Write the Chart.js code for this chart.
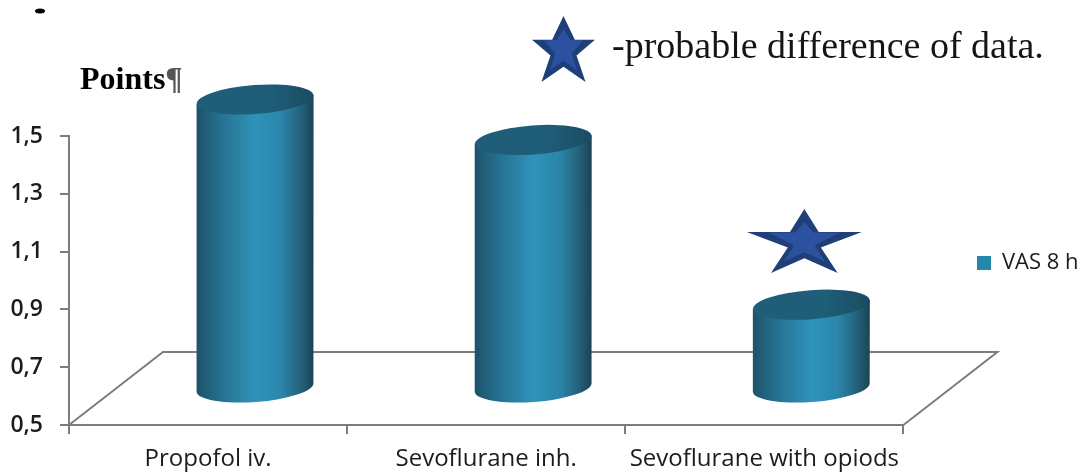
<!DOCTYPE html>
<html>
<head>
<meta charset="utf-8">
<title>VAS 8 h</title>
<style>
  html, body { margin: 0; padding: 0; background: #fff; }
  canvas { display: block; }
</style>
<script src="https://cdn.jsdelivr.net/npm/chart.js@4/dist/chart.umd.js"></script>
</head>
<body>
<canvas id="vas-chart" width="1085" height="473"></canvas>
<script>
const categories = ["Propofol iv.", "Sevoflurane inh.", "Sevoflurane with opiods"];
const vasValues = [1.5, 1.36, 0.79];
const tickLabels = ["0,5", "0,7", "0,9", "1,1", "1,3", "1,5"];
const seriesName = "VAS 8 h";
const axisTitle = "Points";
const starNote = "-probable difference of data.";

const GREY = "#7d7d7d";
const DEPTH_X = 94;
const DEPTH_Y = 73;

function starPath(ctx, cx, top, halfW, shoulderY, footX, footY, innerX, innerY) {
    // outer points and the notches between them, clockwise from the top
    ctx.beginPath();
    ctx.moveTo(cx, top);
    ctx.lineTo(cx + innerX, shoulderY);
    ctx.lineTo(cx + halfW, shoulderY);
    ctx.lineTo(cx + innerX * 1.15, innerY);
    ctx.lineTo(cx + footX, footY);
    ctx.lineTo(cx, innerY + (footY - innerY) * 0.42);
    ctx.lineTo(cx - footX, footY);
    ctx.lineTo(cx - innerX * 1.15, innerY);
    ctx.lineTo(cx - halfW, shoulderY);
    ctx.lineTo(cx - innerX, shoulderY);
    ctx.closePath();
}

function drawStar(ctx, cx, top, width, height, footRatio, notchRatio) {
    const h = width / 2;
    ctx.fillStyle = "#1f3f78";
    starPath(ctx, cx, top, h, top + height * 0.36, h * footRatio, top + height, h * notchRatio, top + height * 0.6);
    ctx.fill();
    // lighter face inside the outline
    const t = top + height * 0.2;
    const ih = height * 0.62;
    ctx.fillStyle = "#2c519f";
    starPath(ctx, cx, t, h * 0.62, t + ih * 0.27, h * footRatio * 0.62, t + ih, h * notchRatio * 0.62, t + ih * 0.6);
    ctx.fill();
}

function drawCylinder(ctx, bar) {
    const rx = bar.width / 2;
    const ry = 14.5;
    const tilt = -0.075;
    const left = bar.x - rx;
    const right = bar.x + rx;

    const side = ctx.createLinearGradient(left, 0, right, 0);
    side.addColorStop(0, "#1d5269");
    side.addColorStop(0.2, "#26708f");
    side.addColorStop(0.5, "#2e93ba");
    side.addColorStop(0.72, "#2b86aa");
    side.addColorStop(0.9, "#235f78");
    side.addColorStop(1, "#1b4354");

    const dy = rx * Math.sin(tilt);
    ctx.beginPath();
    ctx.moveTo(left, bar.y - dy);
    ctx.lineTo(left, bar.base - dy);
    ctx.ellipse(bar.x, bar.base, rx, ry, tilt, Math.PI, 0, true);
    ctx.lineTo(right, bar.y + dy);
    ctx.closePath();
    ctx.fillStyle = side;
    ctx.fill();

    const lid = ctx.createLinearGradient(left, 0, right, 0);
    lid.addColorStop(0, "#1f5d78");
    lid.addColorStop(0.6, "#1f5e79");
    lid.addColorStop(1, "#1a4c62");
    ctx.beginPath();
    ctx.ellipse(bar.x, bar.y, rx, ry, tilt, 0, Math.PI * 2);
    ctx.fillStyle = lid;
    ctx.fill();
}

const scenePlugin = {
    id: "scene",
    beforeDatasetsDraw(chart) {
        // floor of the 3D plot, behind the cylinders
        const {ctx, chartArea: {left, right, bottom}} = chart;
        ctx.save();
        ctx.strokeStyle = GREY;
        ctx.lineWidth = 2;
        ctx.beginPath();
        ctx.moveTo(left, bottom);
        ctx.lineTo(left + DEPTH_X, bottom - DEPTH_Y);
        ctx.lineTo(right + DEPTH_X, bottom - DEPTH_Y);
        ctx.lineTo(right, bottom);
        ctx.stroke();
        ctx.restore();
    },
    beforeDatasetDraw(chart, args) {
        // cylinders sit halfway along the floor depth
        const {ctx} = chart;
        ctx.save();
        ctx.translate(DEPTH_X / 2, -DEPTH_Y / 2);
        args.meta.data.forEach(bar => drawCylinder(ctx, bar));
        ctx.restore();
        return false;
    },
    afterLayout(chart) {
        const legend = chart.legend;
        const w = legend.width;
        const h = legend.height;
        legend.left = 977;
        legend.right = 977 + w;
        legend.top = 263 - h / 2;
        legend.bottom = 263 + h / 2;
    },
    afterDraw(chart) {
        const {ctx} = chart;
        const marked = chart.getDatasetMeta(0).data[2];
        ctx.save();
        drawStar(ctx, 563.5, 16, 63, 66, 0.7, 0.36);
        drawStar(ctx, marked.x + DEPTH_X / 2 - 7, 209, 115, 64, 0.58, 0.25);

        ctx.fillStyle = "#151515";
        ctx.textBaseline = "alphabetic";
        ctx.font = '38px "Liberation Serif"';
        ctx.fillText(starNote, 612, 58);

        ctx.font = 'bold 32px "Liberation Serif"';
        ctx.fillStyle = "#000";
        ctx.fillText(axisTitle, 80, 89);
        const w = ctx.measureText(axisTitle).width;
        ctx.fillStyle = "#555";
        ctx.fillText("\u00b6", 80 + w, 89);

        // clipped glyph remnant along the top edge
        ctx.fillStyle = "#000";
        ctx.beginPath();
        ctx.ellipse(40, 11, 5, 2.5, 0, 0, Math.PI * 2);
        ctx.fill();
        ctx.restore();
    }
};

new Chart(document.getElementById("vas-chart"), {
    type: "bar",
    data: {
        labels: categories,
        datasets: [{
            label: seriesName,
            data: vasValues,
            base: 0.5,
            backgroundColor: "#2585aa",
            barThickness: 117
        }]
    },
    options: {
        responsive: false,
        animation: false,
        layout: {padding: {top: 136, right: 70, left: 0, bottom: 0}},
        scales: {
            x: {
                border: {color: GREY, width: 2},
                grid: {drawOnChartArea: false, color: GREY, lineWidth: 2, tickLength: 9},
                ticks: {color: "#1c1c1c", font: {family: "Open Sans", size: 24}, padding: 11, maxRotation: 0, autoSkip: false},
                afterFit: scale => { scale.height = 48; }
            },
            y: {
                min: 0.5,
                max: 1.5,
                border: {color: GREY, width: 2},
                grid: {drawOnChartArea: false, color: GREY, lineWidth: 2, tickLength: 9},
                ticks: {
                    stepSize: 0.2,
                    color: "#1c1c1c",
                    padding: 17,
                    font: {family: "Open Sans", size: 23, weight: "600"},
                    callback: (value, i) => tickLabels[i]
                },
                afterFit: scale => { scale.width = 69; }
            }
        },
        plugins: {
            tooltip: {enabled: false},
            legend: {
                position: "right",
                labels: {
                    boxWidth: 14,
                    boxHeight: 14,
                    padding: 0,
                    color: "#1c1c1c",
                    font: {family: "Open Sans", size: 22, weight: "500"}
                }
            }
        }
    },
    plugins: [scenePlugin]
});
</script>
</body>
</html>
